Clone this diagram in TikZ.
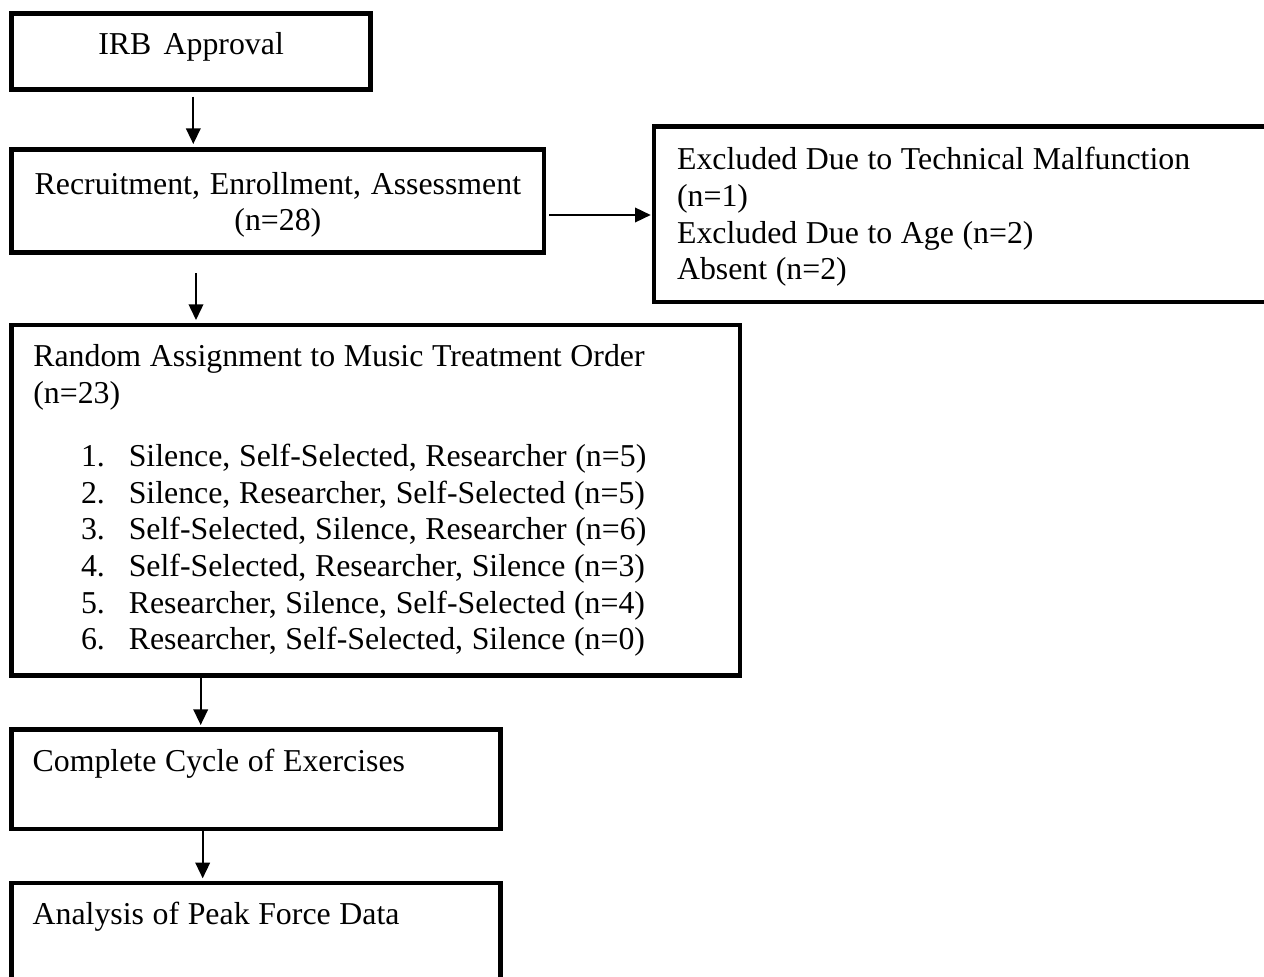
\documentclass[tikz,border=0pt]{standalone}
\usepackage{fontspec}
\setmainfont{Liberation Serif}
\usetikzlibrary{arrows.meta,calc}
\newcommand{\orditem}[2]{\hspace*{18pt}\makebox[18pt][l]{#1}#2}
\begin{document}
\begin{tikzpicture}[x=0.377pt, y=-0.377pt,
  every node/.style={font=\fontsize{12pt}{13.8pt}\selectfont,
    execute at begin node={\spaceskip=3.25pt plus 1pt minus 0.5pt\relax}},
  flowbox/.style={draw,line width=1.77pt,outer sep=0pt,inner ysep=0pt,anchor=north west},
  flow/.style={-{Triangle[width=5.5pt,length=5.9pt]},line width=0.65pt}]
\useasboundingbox (0,0) rectangle (1264,977);
\clip (0,0) rectangle (1264,977);
% boxes
\node[flowbox,inner xsep=0pt,text width=135.3pt,align=center,text height=15.6pt,text depth=13pt] (irb) at (11.7,13.5) {IRB Approval};
\node[flowbox,inner xsep=0pt,text width=200.7pt,align=center,text height=16.9pt,text depth=22.1pt] (recr) at (11.7,149.2)
  {Recruitment, Enrollment, Assessment\\(n=28)};
\node[flowbox,inner xsep=8.7pt,text width=222.4pt,align=left,text height=16.4pt,text depth=49.8pt] (excl) at (654,126.5)
  {Excluded Due to Technical Malfunction\\(n=1)\\Excluded Due to Age (n=2)\\Absent (n=2)};
\node[flowbox,inner xsep=8.15pt,text width=258.3pt,align=left,text height=15.7pt,text depth=116.4pt] (rand) at (11.7,325)
  {Random Assignment to Music Treatment Order\\(n=23)\\[10.1pt]
   \orditem{1.}{Silence, Self-Selected, Researcher (n=5)}\\
   \orditem{2.}{Silence, Researcher, Self-Selected (n=5)}\\
   \orditem{3.}{Self-Selected, Silence, Researcher (n=6)}\\
   \orditem{4.}{Self-Selected, Researcher, Silence (n=3)}\\
   \orditem{5.}{Researcher, Silence, Self-Selected (n=4)}\\
   \orditem{6.}{Researcher, Self-Selected, Silence (n=0)}};
\node[flowbox,inner xsep=7.9pt,text width=168.6pt,align=left,text height=16pt,text depth=21.5pt] (cyc) at (11.7,729.5)
  {Complete Cycle of Exercises};
\node[flowbox,inner xsep=7.9pt,text width=168.6pt,align=left,text height=15.8pt,text depth=21.7pt] (peak) at (11.7,883)
  {Analysis of Peak Force Data};
% arrows
\draw[flow] ($(irb.south west)+(181.6,7.2)$) -- ($(recr.north west)+(181.6,-5.2)$);
\draw[flow] ($(recr.north east)+(5.3,65.8)$) -- ($(excl.north west)+(-3.3,88.5)$);
\draw[flow] ($(recr.south west)+(184.3,20.5)$) -- ($(rand.north west)+(184.3,-5)$);
\draw[flow] ($(rand.south west)+(189,2.3)$) -- ($(cyc.north west)+(189,-4.5)$);
\draw[flow] ($(cyc.south west)+(191,2)$) -- ($(peak.north west)+(191,-4.7)$);
\end{tikzpicture}
\end{document}
